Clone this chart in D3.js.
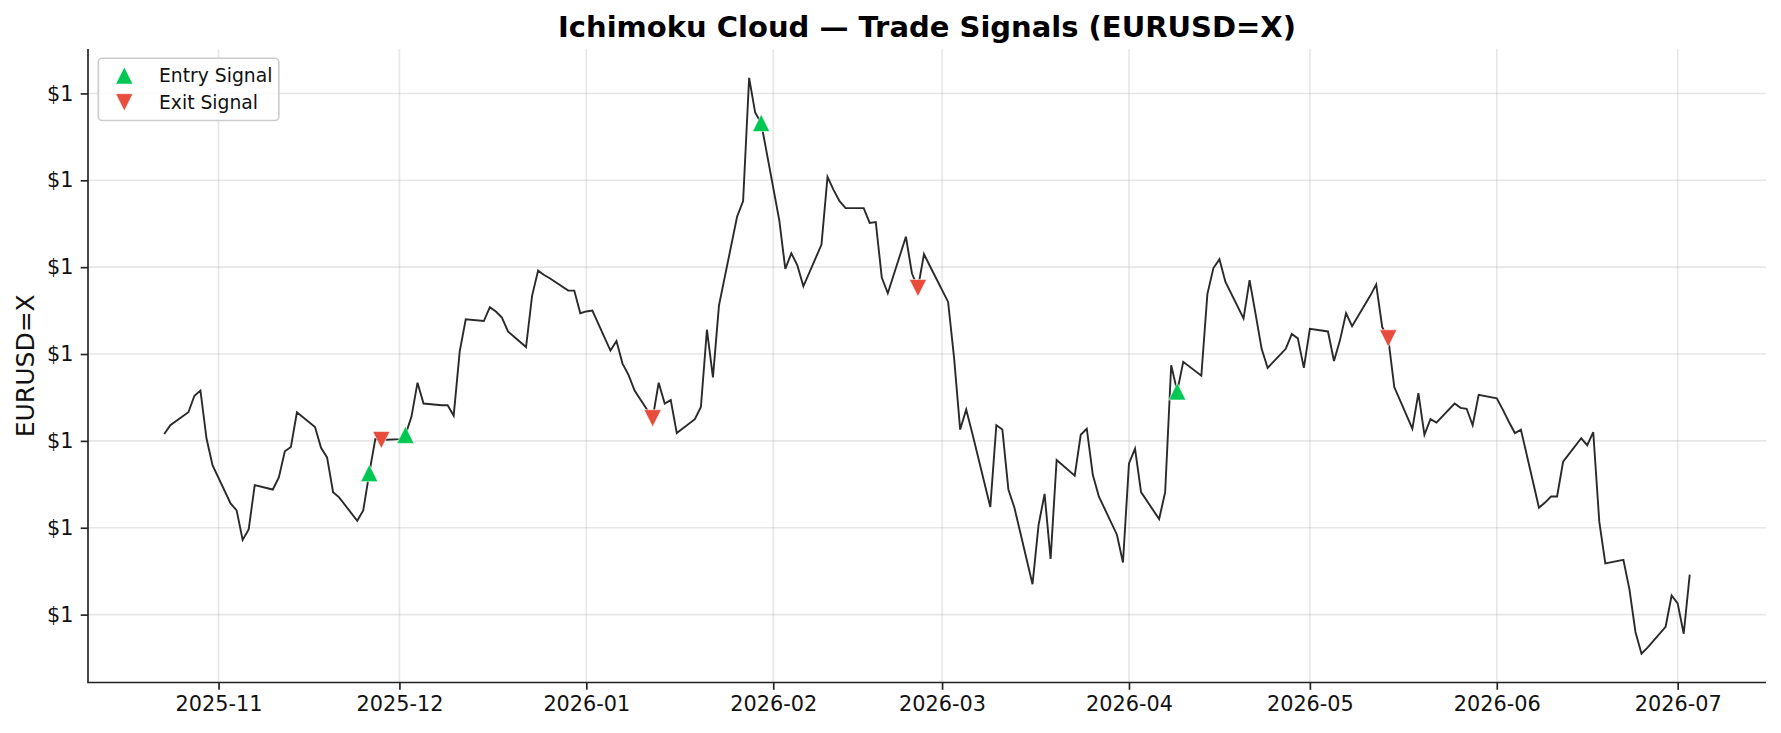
<!DOCTYPE html>
<html>
<head>
<meta charset="utf-8">
<script src="https://cdn.jsdelivr.net/npm/d3@7"></script>
<style>
  html, body { margin: 0; padding: 0; background: #ffffff; }
  svg { display: block; font-family: "DejaVu Sans", sans-serif; }
</style>
</head>
<body>
<svg id="chart" width="1781" height="733"></svg>
<script>
// ---------------- data ----------------
const dates = [
  "2025-10-23","2025-10-24","2025-10-27","2025-10-28","2025-10-29","2025-10-30","2025-10-31",
  "2025-11-03","2025-11-04","2025-11-05","2025-11-06","2025-11-07",
  "2025-11-10","2025-11-11","2025-11-12","2025-11-13","2025-11-14",
  "2025-11-17","2025-11-18","2025-11-19","2025-11-20","2025-11-21",
  "2025-11-24","2025-11-25","2025-11-26","2025-11-27","2025-11-28",
  "2025-12-01","2025-12-02","2025-12-03","2025-12-04","2025-12-05",
  "2025-12-08","2025-12-09","2025-12-10","2025-12-11","2025-12-12",
  "2025-12-15","2025-12-16","2025-12-17","2025-12-18","2025-12-19",
  "2025-12-22","2025-12-23","2025-12-24","2025-12-25","2025-12-26",
  "2025-12-29","2025-12-30","2025-12-31",
  "2026-01-01","2026-01-02",
  "2026-01-05","2026-01-06","2026-01-07","2026-01-08","2026-01-09",
  "2026-01-12","2026-01-13","2026-01-14","2026-01-15","2026-01-16",
  "2026-01-19","2026-01-20","2026-01-21","2026-01-22","2026-01-23",
  "2026-01-26","2026-01-27","2026-01-28","2026-01-29","2026-01-30",
  "2026-02-02","2026-02-03","2026-02-04","2026-02-05","2026-02-06",
  "2026-02-09","2026-02-10","2026-02-11","2026-02-12","2026-02-13",
  "2026-02-16","2026-02-17","2026-02-18","2026-02-19","2026-02-20",
  "2026-02-23","2026-02-24","2026-02-25","2026-02-26","2026-02-27",
  "2026-03-02","2026-03-03","2026-03-04","2026-03-05","2026-03-06",
  "2026-03-09","2026-03-10","2026-03-11","2026-03-12","2026-03-13",
  "2026-03-16","2026-03-17","2026-03-18","2026-03-19","2026-03-20",
  "2026-03-23","2026-03-24","2026-03-25","2026-03-26","2026-03-27",
  "2026-03-30","2026-03-31",
  "2026-04-01","2026-04-02","2026-04-03",
  "2026-04-06","2026-04-07","2026-04-08","2026-04-09","2026-04-10",
  "2026-04-13","2026-04-14","2026-04-15","2026-04-16","2026-04-17",
  "2026-04-20","2026-04-21","2026-04-22","2026-04-23","2026-04-24",
  "2026-04-27","2026-04-28","2026-04-29","2026-04-30",
  "2026-05-01",
  "2026-05-04","2026-05-05","2026-05-06","2026-05-07","2026-05-08",
  "2026-05-11","2026-05-12","2026-05-13","2026-05-14","2026-05-15",
  "2026-05-18","2026-05-19","2026-05-20","2026-05-21","2026-05-22",
  "2026-05-25","2026-05-26","2026-05-27","2026-05-28","2026-05-29",
  "2026-06-01","2026-06-02","2026-06-03","2026-06-04","2026-06-05",
  "2026-06-08","2026-06-09","2026-06-10","2026-06-11","2026-06-12",
  "2026-06-15","2026-06-16","2026-06-17","2026-06-18","2026-06-19",
  "2026-06-22","2026-06-23","2026-06-24","2026-06-25","2026-06-26",
  "2026-06-29","2026-06-30",
  "2026-07-01","2026-07-02","2026-07-03"
];

const closes = [
  1.1508,1.1518,1.1533,1.1552,1.1558,1.1503,1.1472,
  1.1428,1.1420,1.1386,1.1398,1.1449,
  1.1444,1.1458,1.1488,1.1493,1.1533,
  1.1516,1.1492,1.1481,1.1441,1.1435,
  1.1408,1.1420,1.1463,1.1502,1.1501,
  1.1502,1.1507,1.1528,1.1567,1.1543,
  1.1541,1.1541,1.1529,1.1603,1.1640,
  1.1638,1.1654,1.1649,1.1642,1.1626,
  1.1608,1.1667,1.1696,1.1691,1.1687,
  1.1673,1.1673,1.1647,
  1.1649,1.1650,
  1.1604,1.1615,1.1589,1.1576,1.1558,
  1.1526,1.1567,1.1543,1.1547,1.1509,
  1.1525,1.1539,1.1628,1.1573,1.1656,
  1.1758,1.1776,1.1918,1.1878,1.1866,
  1.1754,1.1698,1.1716,1.1702,1.1678,
  1.1726,1.1804,1.1789,1.1776,1.1768,
  1.1768,1.1751,1.1752,1.1688,1.1670,
  1.1735,1.1693,1.1676,1.1715,1.1701,
  1.1660,1.1595,1.1513,1.1536,1.1509,
  1.1424,1.1518,1.1513,1.1444,1.1423,
  1.1335,1.1403,1.1439,1.1364,1.1478,
  1.1460,1.1507,1.1514,1.1461,1.1436,
  1.1392,1.1360,
  1.1474,1.1491,1.1441,
  1.1410,1.1441,1.1587,1.1557,1.1591,
  1.1575,1.1669,1.1699,1.1709,1.1683,
  1.1641,1.1685,1.1646,1.1606,1.1584,
  1.1606,1.1623,1.1618,1.1584,
  1.1629,
  1.1626,1.1592,1.1616,1.1647,1.1632,
  1.1667,1.1680,1.1631,1.1618,1.1562,
  1.1514,1.1555,1.1507,1.1525,1.1521,
  1.1543,1.1538,1.1537,1.1518,1.1553,
  1.1549,1.1536,1.1522,1.1509,1.1513,
  1.1423,1.1429,1.1436,1.1436,1.1476,
  1.1503,1.1495,1.1510,1.1407,1.1359,
  1.1363,1.1329,1.1280,1.1255,1.1262,
  1.1286,1.1322,
  1.1313,1.1278,1.1346
];

const entryDates = ["2025-11-26","2025-12-02","2026-01-30","2026-04-09"];
const exitDates  = ["2025-11-28","2026-01-12","2026-02-25","2026-05-14"];

const yTickValues = [1.13, 1.14, 1.15, 1.16, 1.17, 1.18, 1.19];
const xTickDates = ["2025-11-01","2025-12-01","2026-01-01","2026-02-01","2026-03-01",
                    "2026-04-01","2026-05-01","2026-06-01","2026-07-01"];

const titleText = "Ichimoku Cloud \u2014 Trade Signals (EURUSD=X)";
const yLabelText = "EURUSD=X";
const legendLabels = ["Entry Signal", "Exit Signal"];

// ---------------- setup ----------------
const W = 1781, H = 733;
const margin = {left: 88, right: 15, top: 49, bottom: 50.5};
const parse = d3.timeParse("%Y-%m-%d");
const series = dates.map((d, i) => ({date: parse(d), value: closes[i]}));
const byDate = new Map(dates.map((d, i) => [d, closes[i]]));

const svg = d3.select("#chart");
const plotW = W - margin.left - margin.right;
const plotH = H - margin.top - margin.bottom;

// matplotlib-like 5% margins
const xExt = d3.extent(series, d => d.date);
const xSpan = xExt[1] - xExt[0];
const x = d3.scaleTime()
  .domain([new Date(+xExt[0] - 0.05 * xSpan), new Date(+xExt[1] + 0.05 * xSpan)])
  .range([margin.left, margin.left + plotW]);

const yExt = d3.extent(series, d => d.value);
const ySpan = yExt[1] - yExt[0];
const y = d3.scaleLinear()
  .domain([yExt[0] - 0.05 * ySpan, yExt[1] + 0.05 * ySpan])
  .range([margin.top + plotH, margin.top]);

const GREEN = "#00c853", RED = "#e74c3c";
const TICK_FONT = 20.8;

// ---------------- grid ----------------
const grid = svg.append("g");
grid.selectAll("line.gx").data(xTickDates.map(parse)).enter().append("line")
  .attr("x1", d => x(d)).attr("x2", d => x(d))
  .attr("y1", margin.top).attr("y2", margin.top + plotH)
  .attr("stroke", "#b0b0b0").attr("stroke-opacity", 0.3).attr("stroke-width", 1.6);
grid.selectAll("line.gy").data(yTickValues).enter().append("line")
  .attr("x1", margin.left).attr("x2", margin.left + plotW)
  .attr("y1", d => y(d)).attr("y2", d => y(d))
  .attr("stroke", "#b0b0b0").attr("stroke-opacity", 0.3).attr("stroke-width", 1.6);

// ---------------- line ----------------
const line = d3.line().x(d => x(d.date)).y(d => y(d.value));
svg.append("path").datum(series)
  .attr("d", line)
  .attr("fill", "none")
  .attr("stroke", "#2a2a2a")
  .attr("stroke-width", 1.9)
  .attr("stroke-linejoin", "miter");

// ---------------- markers ----------------
const S = 8.6; // half size
const upTri = `M0,${-S}L${-S},${S}L${S},${S}Z`;
const downTri = `M0,${S}L${-S},${-S}L${S},${-S}Z`;

svg.append("g").selectAll("path").data(entryDates).enter().append("path")
  .attr("d", upTri)
  .attr("transform", d => `translate(${x(parse(d))},${y(byDate.get(d))})`)
  .attr("fill", GREEN).attr("stroke", "#ffffff").attr("stroke-width", 0.6);

svg.append("g").selectAll("path").data(exitDates).enter().append("path")
  .attr("d", downTri)
  .attr("transform", d => `translate(${x(parse(d))},${y(byDate.get(d))})`)
  .attr("fill", RED).attr("stroke", "#ffffff").attr("stroke-width", 0.6);

// ---------------- axes ----------------
const xAxis = d3.axisBottom(x)
  .tickValues(xTickDates.map(parse))
  .tickFormat(d3.timeFormat("%Y-%m"))
  .tickSize(7.3).tickPadding(6);
const gx = svg.append("g")
  .attr("transform", `translate(0,${margin.top + plotH})`)
  .call(xAxis);
gx.select(".domain").remove();
gx.selectAll(".tick line").attr("stroke", "#222").attr("stroke-width", 1.67);
gx.selectAll(".tick text").attr("font-size", TICK_FONT).attr("fill", "#111")
  .attr("font-family", "DejaVu Sans");

const yAxis = d3.axisLeft(y)
  .tickValues(yTickValues)
  .tickFormat(d3.format("$.0f"))
  .tickSize(7.3).tickPadding(7.3);
const gy = svg.append("g")
  .attr("transform", `translate(${margin.left},0)`)
  .call(yAxis);
gy.select(".domain").remove();
gy.selectAll(".tick line").attr("stroke", "#222").attr("stroke-width", 1.67);
gy.selectAll(".tick text").attr("font-size", TICK_FONT).attr("fill", "#111")
  .attr("font-family", "DejaVu Sans");

// spines (left & bottom)
svg.append("line")
  .attr("x1", margin.left).attr("x2", margin.left)
  .attr("y1", margin.top).attr("y2", margin.top + plotH)
  .attr("stroke", "#222").attr("stroke-width", 1.67);
svg.append("line")
  .attr("x1", margin.left - 0.8).attr("x2", margin.left + plotW)
  .attr("y1", margin.top + plotH).attr("y2", margin.top + plotH)
  .attr("stroke", "#222").attr("stroke-width", 1.67);

// ---------------- title & label ----------------
svg.append("text")
  .attr("x", margin.left + plotW / 2).attr("y", 36.7)
  .attr("text-anchor", "middle")
  .attr("font-size", 29).attr("font-weight", "bold").attr("fill", "#000")
  .text(titleText);

svg.append("text")
  .attr("transform", `translate(34,${margin.top + plotH / 2}) rotate(-90)`)
  .attr("text-anchor", "middle")
  .attr("font-size", 25).attr("fill", "#111")
  .text(yLabelText);

// ---------------- legend ----------------
const lg = svg.append("g");
lg.append("rect")
  .attr("x", 98.3).attr("y", 58.3).attr("width", 180.5).attr("height", 62.2)
  .attr("rx", 4).attr("ry", 4)
  .attr("fill", "#ffffff").attr("fill-opacity", 0.8)
  .attr("stroke", "#cccccc").attr("stroke-width", 1.6);
const legendItems = [
  {label: legendLabels[0], path: upTri, color: GREEN, cy: 75.5},
  {label: legendLabels[1], path: downTri, color: RED, cy: 102.3}
];
legendItems.forEach(it => {
  lg.append("path").attr("d", it.path)
    .attr("transform", `translate(124.3,${it.cy})`)
    .attr("fill", it.color).attr("stroke", "#ffffff").attr("stroke-width", 0.6);
  lg.append("text")
    .attr("x", 159).attr("y", it.cy + 6.6)
    .attr("font-size", 18.75).attr("fill", "#111")
    .text(it.label);
});
</script>
</body>
</html>
